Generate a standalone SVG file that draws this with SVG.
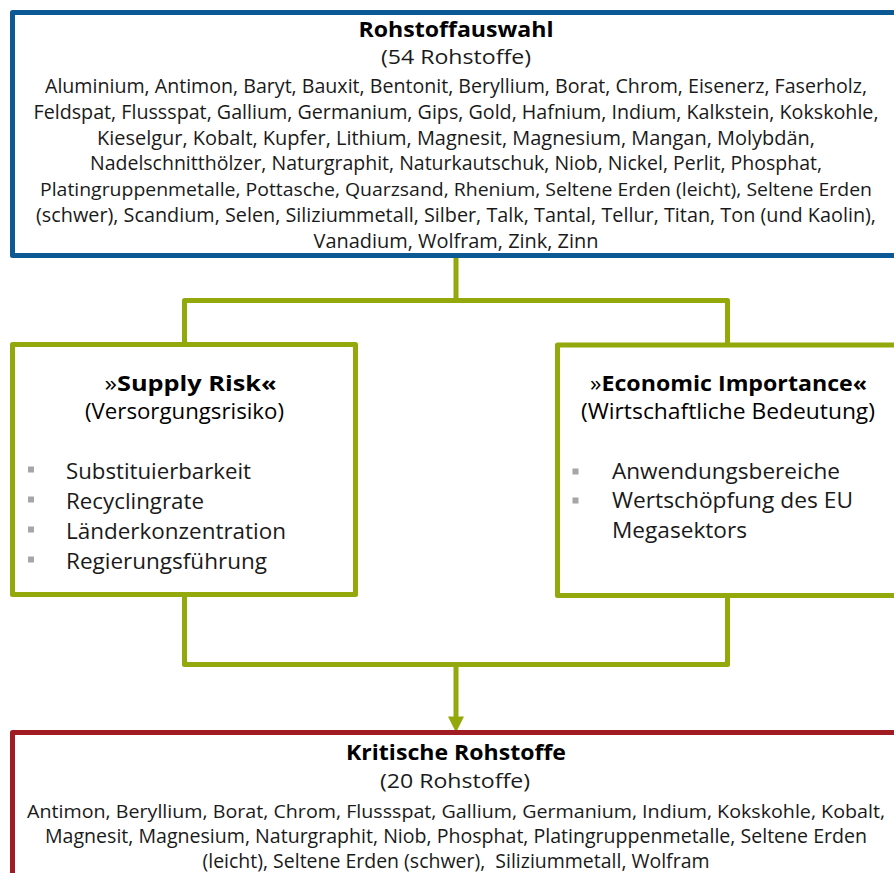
<svg xmlns="http://www.w3.org/2000/svg" width="894" height="873" viewBox="0 0 894 873">
<defs>
<style>
text{font-family:"Open Sans","Noto Sans","Liberation Sans",sans-serif;fill:#1a1a1a}
.t{font-size:22px;font-weight:bold;fill:#000;text-anchor:middle}
.s{font-size:20.5px;text-anchor:middle}
.l{font-size:20px;text-anchor:middle}
.w{font-size:18.5px}
.bt{font-size:21.5px;text-anchor:middle;fill:#000}
.b{font-size:22.5px}
.bul{fill:#a6a6a6}
.box{fill:#fff;stroke-width:5;stroke-linejoin:round}
.con{fill:none;stroke:#93a80a;stroke-width:5;stroke-linejoin:round}
.arrow{fill:#93a80a}
</style>
</defs>
<rect width="894" height="873" fill="#fff"/>

<g id="connectors">
<path class="con" d="M456,258 V300.5 M184.5,344.5 V300.5 H727.5 V345"/>
<path class="con" d="M184.5,594.5 V664.5 H727.5 V595.5 M456,664.5 V718"/>
<path class="arrow" d="M448,716.5 L464,716.5 L456,732.5 Z"/>
</g>

<g id="rohstoffauswahl">
<rect class="box" x="12.5" y="12.5" width="900" height="243" stroke="#0b5a96"/>
<text class="t" x="456" y="37.3" textLength="195" lengthAdjust="spacingAndGlyphs">Rohstoffauswahl</text>
<text class="s" x="456" y="64" textLength="150" lengthAdjust="spacingAndGlyphs">(54 Rohstoffe)</text>
<text class="l" x="456" y="93.3" textLength="822" lengthAdjust="spacingAndGlyphs">Aluminium, Antimon, Baryt, Bauxit, Bentonit, Beryllium, Borat, Chrom, Eisenerz, Faserholz,</text>
<text class="l" x="456" y="119" textLength="845" lengthAdjust="spacingAndGlyphs">Feldspat, Flussspat, Gallium, Germanium, Gips, Gold, Hafnium, Indium, Kalkstein, Kokskohle,</text>
<text class="l" x="456" y="144.7" textLength="718" lengthAdjust="spacingAndGlyphs">Kieselgur, Kobalt, Kupfer, Lithium, Magnesit, Magnesium, Mangan, Molybdän,</text>
<text class="l" x="456" y="170.4" textLength="732" lengthAdjust="spacingAndGlyphs">Nadelschnitthölzer, Naturgraphit, Naturkautschuk, Niob, Nickel, Perlit, Phosphat,</text>
<text class="l w" x="456" y="196.1" textLength="832" lengthAdjust="spacingAndGlyphs">Platingruppenmetalle, Pottasche, Quarzsand, Rhenium, Seltene Erden (leicht), Seltene Erden</text>
<text class="l" x="456" y="221.8" textLength="840" lengthAdjust="spacingAndGlyphs">(schwer), Scandium, Selen, Siliziummetall, Silber, Talk, Tantal, Tellur, Titan, Ton (und Kaolin),</text>
<text class="l" x="456" y="247.5" textLength="285" lengthAdjust="spacingAndGlyphs">Vanadium, Wolfram, Zink, Zinn</text>
</g>

<g id="supply-risk">
<rect class="box" x="12.5" y="344.5" width="343" height="250" stroke="#93a80a"/>
<text class="bt" x="190.5" y="390.5" textLength="172" lengthAdjust="spacingAndGlyphs">»<tspan font-weight="bold">Supply Risk«</tspan></text>
<text class="bt" x="184.5" y="419" textLength="199" lengthAdjust="spacingAndGlyphs">(Versorgungsrisiko)</text>
<rect class="bul" x="28" y="466.5" width="6" height="6"/>
<rect class="bul" x="28" y="496.5" width="6" height="6"/>
<rect class="bul" x="28" y="526.5" width="6" height="6"/>
<rect class="bul" x="28" y="556.5" width="6" height="6"/>
<text class="b" x="66" y="479" textLength="185" lengthAdjust="spacingAndGlyphs">Substituierbarkeit</text>
<text class="b" x="66" y="509" textLength="138" lengthAdjust="spacingAndGlyphs">Recyclingrate</text>
<text class="b" x="66" y="539" textLength="220" lengthAdjust="spacingAndGlyphs">Länderkonzentration</text>
<text class="b" x="66" y="569" textLength="201" lengthAdjust="spacingAndGlyphs">Regierungsführung</text>
</g>

<g id="economic-importance">
<rect class="box" x="557.5" y="345" width="400" height="250.5" stroke="#93a80a"/>
<text class="bt" x="728.5" y="390.7" textLength="277" lengthAdjust="spacingAndGlyphs">»<tspan font-weight="bold">Economic Importance«</tspan></text>
<text class="bt" x="728" y="419" textLength="294" lengthAdjust="spacingAndGlyphs">(Wirtschaftliche Bedeutung)</text>
<rect class="bul" x="572.5" y="468.5" width="6" height="6"/>
<rect class="bul" x="572.5" y="497.5" width="6" height="6"/>
<text class="b" x="612" y="478.5" textLength="228" lengthAdjust="spacingAndGlyphs">Anwendungsbereiche</text>
<text class="b" x="612" y="508" textLength="241" lengthAdjust="spacingAndGlyphs">Wertschöpfung des EU</text>
<text class="b" x="612" y="537.5" textLength="135" lengthAdjust="spacingAndGlyphs">Megasektors</text>
</g>

<g id="kritische-rohstoffe">
<rect class="box" x="12.5" y="732.5" width="900" height="200" stroke="#a01c22"/>
<text class="t" x="456" y="760" textLength="220" lengthAdjust="spacingAndGlyphs">Kritische Rohstoffe</text>
<text class="s" x="455" y="788.3" textLength="150" lengthAdjust="spacingAndGlyphs">(20 Rohstoffe)</text>
<text class="l w" x="456" y="818" textLength="858" lengthAdjust="spacingAndGlyphs">Antimon, Beryllium, Borat, Chrom, Flussspat, Gallium, Germanium, Indium, Kokskohle, Kobalt,</text>
<text class="l" x="456" y="843" textLength="822" lengthAdjust="spacingAndGlyphs">Magnesit, Magnesium, Naturgraphit, Niob, Phosphat, Platingruppenmetalle, Seltene Erden</text>
<text class="l" x="456" y="868" textLength="507" lengthAdjust="spacingAndGlyphs" xml:space="preserve">(leicht), Seltene Erden (schwer),  Siliziummetall, Wolfram</text>
</g>
</svg>
